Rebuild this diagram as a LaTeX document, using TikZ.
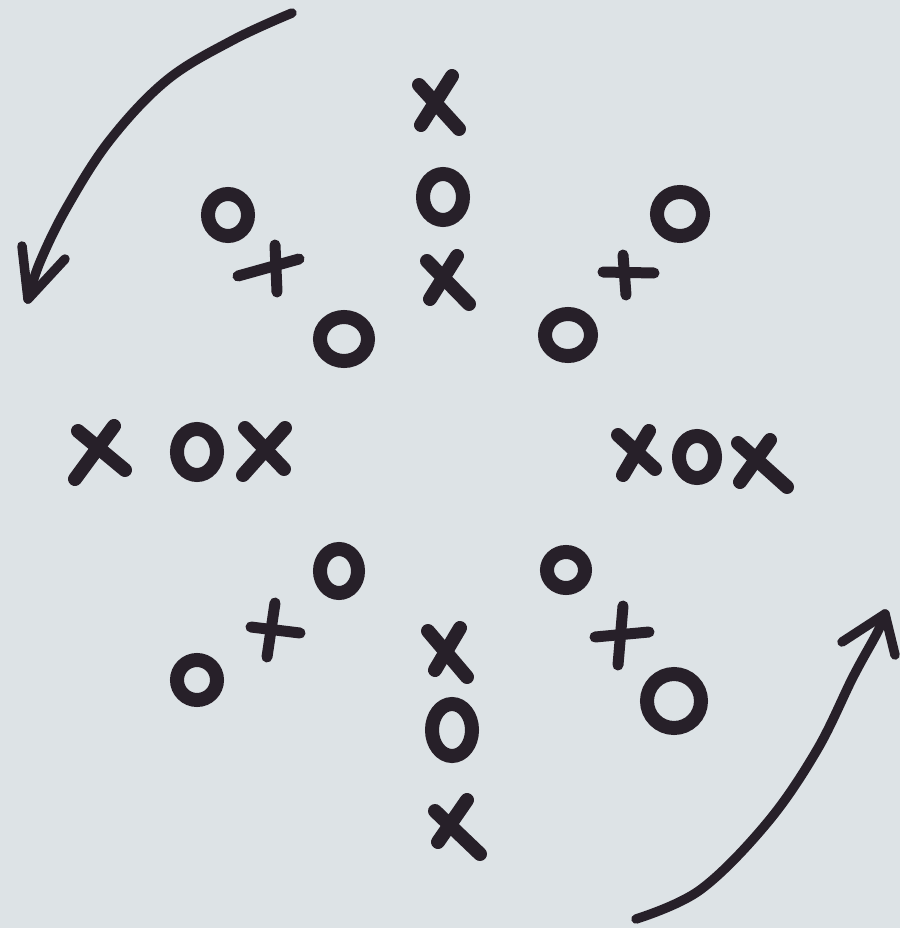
\documentclass[tikz,border=0pt]{standalone}
\definecolor{paper}{HTML}{DDE3E6}
\definecolor{ink}{HTML}{272029}
\tikzset{
  ostroke/.style={draw=ink,line width=14pt},
  xstroke/.style={draw=ink,line width=14pt,line cap=round},
  pstroke/.style={draw=ink,line width=11pt,line cap=round},
  arrowstroke/.style={draw=ink,line width=9.5pt,line cap=round,line join=round},
}
\begin{document}
\begin{tikzpicture}[x=1pt,y=-1pt]
\fill[paper] (0,0) rectangle (900,928);
\useasboundingbox (0,0) rectangle (900,928);
% O rings: center, outer rx, outer ry
\foreach \cx/\cy/\rx/\ry in {443/197/27/30, 228/215/27/28, 344/339/31/29, 680/214/30/29, 568/335/30/28, 197/452/27/30, 697/457/25/28, 566/570/26/25, 674/701/34/34, 339/571/26/29, 197/680/27/27, 452/730/27/33}
  \draw[ostroke] (\cx,\cy) ellipse [x radius=\rx-7, y radius=\ry-7];
% X marks
\draw[xstroke] (419,85) -- (459,129);
\draw[xstroke] (452,76) -- (421,125);
\draw[xstroke] (427,261) -- (469,304);
\draw[xstroke] (457,256) -- (430,299);
\draw[xstroke] (78,431) -- (125,470);
\draw[xstroke] (114,426) -- (75,479);
\draw[xstroke] (245,428) -- (284,469);
\draw[xstroke] (285,428) -- (243,475);
\draw[xstroke] (618,435) -- (655,469);
\draw[xstroke] (649,431) -- (623,475);
\draw[xstroke] (738,443) -- (787,487);
\draw[xstroke] (770,440) -- (740,482);
\draw[xstroke] (428,631) -- (467,677);
\draw[xstroke] (460,628) -- (435,670);
\draw[xstroke] (435,811) -- (480,854);
\draw[xstroke] (467,800) -- (438,842);
% plus marks
\draw[pstroke] (238,276) -- (299,259);
\draw[pstroke] (275,245) -- (277,292);
\draw[pstroke] (603,272) -- (654,273);
\draw[pstroke] (623,255) -- (626,295);
\draw[pstroke] (595,637) -- (649,632);
\draw[pstroke] (623,606) -- (618,665);
\draw[pstroke] (251,627) -- (300,633);
\draw[pstroke] (275,603) -- (267,657);
% arrows
\draw[arrowstroke] plot[smooth,tension=0.6] coordinates {(292,13) (233,40) (167,80) (110,140) (67,207) (40,262) (28,299)};
\draw[arrowstroke] (22,246) -- (28,299) -- (65,259);
\draw[arrowstroke] plot[smooth,tension=0.6] coordinates {(636,919) (700,890) (767,823) (817,750) (853,677) (877,633) (885,614)};
\draw[arrowstroke] (842,642) -- (885,614) -- (895,655);
\end{tikzpicture}
\end{document}
